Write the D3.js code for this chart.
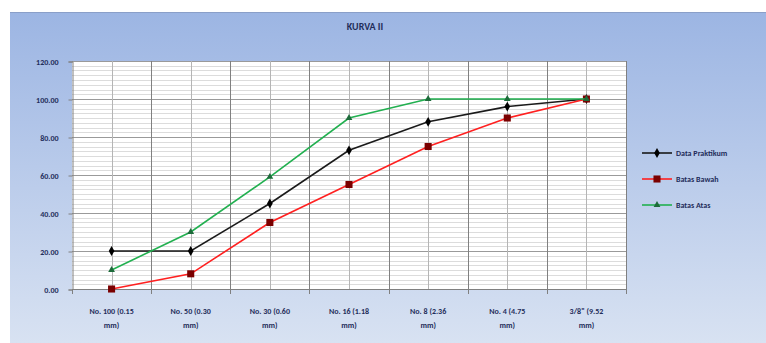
<!DOCTYPE html>
<html>
<head>
<meta charset="utf-8">
<script src="https://cdn.jsdelivr.net/npm/d3@7"></script>
<style>
  body { margin: 0; background: #fff; }
  svg { display: block; font-family: Calibri, Carlito, "Liberation Sans", Arial, sans-serif; }
</style>
</head>
<body>
<svg id="chart" width="766" height="343"></svg>
<script>
// sieve sizes
var categories = [
  ["No. 100 (0.15", "mm)"],
  ["No. 50 (0.30", "mm)"],
  ["No. 30 (0.60", "mm)"],
  ["No. 16 (1.18", "mm)"],
  ["No. 8 (2.36", "mm)"],
  ["No. 4 (4.75", "mm)"],
  ["3/8\" (9.52", "mm)"]
]
var dataPraktikum = [20, 20, 45, 73, 88, 96, 100]
var batasBawah = [0, 8, 35, 55, 75, 90, 100]
var batasAtas = [10, 30, 59, 90, 100, 100, 100]
var yTicks = [0, 20, 40, 60, 80, 100, 120]

var series = [
  {name: "Data Praktikum", values: dataPraktikum, line: "#1a1a1a", marker: "#000", shape: d3.symbolDiamond, size: 28},
  {name: "Batas Bawah", values: batasBawah, line: "#ff2020", marker: "#7a0000", shape: d3.symbolSquare, size: 50},
  {name: "Batas Atas", values: batasAtas, line: "#22b050", marker: "#1d6b3a", shape: d3.symbolTriangle, size: 20}
]

var svg = d3.select('#chart')
var W = 766, H = 343
var plot = {left: 72, top: 61, right: 626, bottom: 289}

// background panel
var defs = svg.append('defs')
var grad = defs.append('linearGradient').attr('id', 'bg').attr('x1', 0).attr('y1', 0).attr('x2', 0).attr('y2', 1)
grad.append('stop').attr('offset', '0%').attr('stop-color', '#9cb5e3')
grad.append('stop').attr('offset', '100%').attr('stop-color', '#d8e2f2')
svg.append('rect').attr('x', 10).attr('y', 12).attr('width', W - 10).attr('height', H - 12)
  .attr('fill', 'url(#bg)')
svg.append('line').attr('x1', 10).attr('x2', W).attr('y1', 12.5).attr('y2', 12.5)
  .attr('stroke', '#8a9fc8').attr('stroke-width', 1)

svg.append('text').attr('x', 365).attr('y', 30).attr('text-anchor', 'middle')
  .attr('font-size', 10).attr('font-weight', 'bold').attr('fill', '#1f2d5a').text('KURVA II')

var x = d3.scaleBand().domain(d3.range(categories.length)).range([plot.left, plot.right])
var y = d3.scaleLinear().domain([0, 120]).range([plot.bottom, plot.top])

svg.append('rect').attr('x', plot.left).attr('y', plot.top)
  .attr('width', plot.right - plot.left).attr('height', plot.bottom - plot.top).attr('fill', '#fff')

// minor horizontal grid
var g = svg.append('g')
g.selectAll('.hminor').data(d3.range(0, 121, 2.5)).enter().append('line')
  .attr('x1', plot.left).attr('x2', plot.right)
  .attr('y1', function(d){ return Math.round(y(d)) + 0.5 })
  .attr('y2', function(d){ return Math.round(y(d)) + 0.5 })
  .attr('stroke', '#dcdcdc').attr('stroke-width', 1)
g.selectAll('.hmajor').data(yTicks).enter().append('line')
  .attr('x1', plot.left).attr('x2', plot.right)
  .attr('y1', function(d){ return Math.round(y(d)) + 0.5 })
  .attr('y2', function(d){ return Math.round(y(d)) + 0.5 })
  .attr('stroke', '#9a9a9a').attr('stroke-width', 1)

// vertical grid: category centers (lighter) and boundaries
g.selectAll('.vmid').data(d3.range(categories.length)).enter().append('line')
  .attr('x1', function(d){ return Math.round(x(d) + x.bandwidth() / 2) + 0.5 })
  .attr('x2', function(d){ return Math.round(x(d) + x.bandwidth() / 2) + 0.5 })
  .attr('y1', plot.top).attr('y2', plot.bottom)
  .attr('stroke', '#b5b5b5')
g.selectAll('.vb').data(d3.range(1, categories.length + 1)).enter().append('line')
  .attr('x1', function(d){ return Math.round(plot.left + d * x.step()) + 0.5 })
  .attr('x2', function(d){ return Math.round(plot.left + d * x.step()) + 0.5 })
  .attr('y1', plot.top).attr('y2', plot.bottom + 5)
  .attr('stroke', '#808080')

// axes
var yAxis = d3.axisLeft(y).tickValues(yTicks).tickSize(4).tickFormat(d3.format('.2f'))
var ya = svg.append('g').attr('transform', 'translate(' + (plot.left + 0.5) + ',0.5)').call(yAxis)
ya.select('.domain').attr('stroke', '#808080')
ya.selectAll('.tick line').attr('stroke', '#808080')
ya.selectAll('text').attr('font-size', 8).attr('fill', '#1f2d5a').attr('font-weight', 'bold')
  .attr('x', -14).attr('font-family', 'Calibri, Carlito, "Liberation Sans", Arial, sans-serif')

svg.append('line').attr('x1', plot.left).attr('x2', plot.right)
  .attr('y1', plot.bottom + 0.5).attr('y2', plot.bottom + 0.5).attr('stroke', '#808080')
svg.append('line').attr('x1', plot.left + 0.5).attr('x2', plot.left + 0.5)
  .attr('y1', plot.bottom).attr('y2', plot.bottom + 5).attr('stroke', '#808080')

var xl = svg.append('g').selectAll('text').data(categories).enter().append('text')
  .attr('text-anchor', 'middle').attr('font-size', 8).attr('fill', '#1f2d5a').attr('font-weight', 'bold')
xl.each(function(d, i){
  var t = d3.select(this)
  d.forEach(function(s, k){
    t.append('tspan').attr('x', x(i) + x.bandwidth() / 2).attr('y', 314 + k * 14).text(s)
  })
})

// lines and markers
var line = d3.line()
  .x(function(d, i){ return x(i) + x.bandwidth() / 2 })
  .y(function(d){ return y(d) })

series.forEach(function(s){
  svg.append('path').datum(s.values).attr('d', line)
    .attr('fill', 'none').attr('stroke', s.line).attr('stroke-width', 1.6)
  svg.append('g').selectAll('path').data(s.values).enter().append('path')
    .attr('d', d3.symbol().type(s.shape).size(s.size))
    .attr('transform', function(d, i){ return 'translate(' + (x(i) + x.bandwidth() / 2) + ',' + y(d) + ')' })
    .attr('fill', s.marker)
})

// legend
var leg = svg.append('g').attr('transform', 'translate(642,153)')
series.forEach(function(s, i){
  var r = leg.append('g').attr('transform', 'translate(0,' + (i * 26) + ')')
  r.append('line').attr('x1', 0).attr('x2', 30).attr('stroke', s.line).attr('stroke-width', 1.6)
  r.append('path').attr('d', d3.symbol().type(s.shape).size(s.size)).attr('transform', 'translate(15,0)').attr('fill', s.marker)
  r.append('text').attr('x', 34).attr('y', 3).attr('font-size', 8).attr('fill', '#1f2d5a').attr('font-weight', 'bold').text(s.name)
})
</script>
</body>
</html>
